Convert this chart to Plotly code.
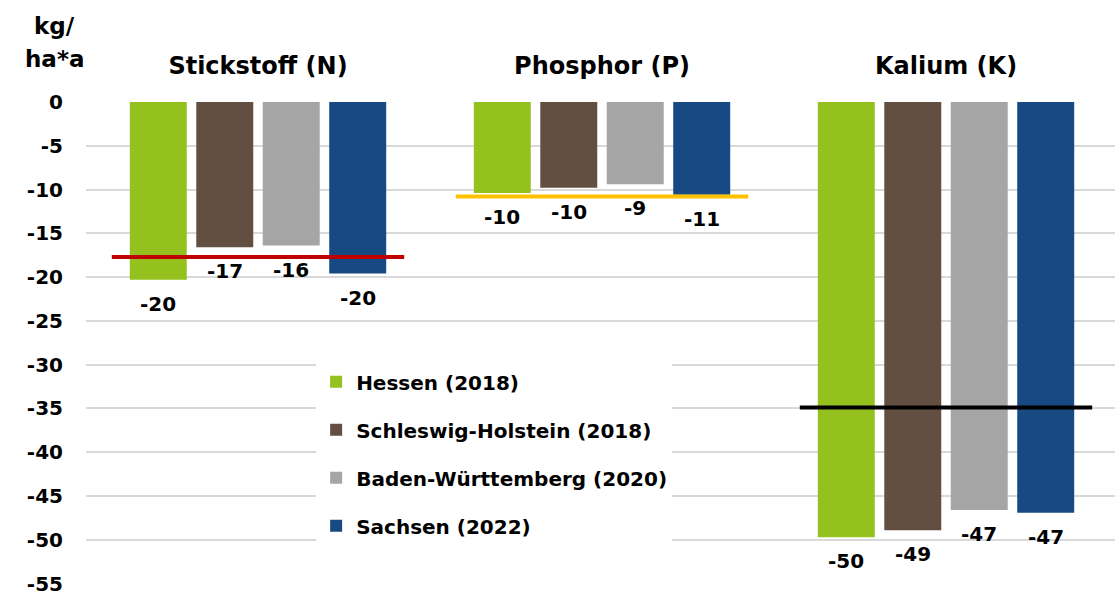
import plotly.graph_objects as go

categories = ["Stickstoff (N)", "Phosphor (P)", "Kalium (K)"]
series_names = ["Hessen (2018)", "Schleswig-Holstein (2018)", "Baden-Württemberg (2020)", "Sachsen (2022)"]
hessen = [-20.3, -10.4, -49.7]
schleswig = [-16.6, -9.8, -48.9]
baden = [-16.4, -9.4, -46.6]
sachsen = [-19.6, -10.6, -46.9]
series_values = [hessen, schleswig, baden, sachsen]
colors = ["#95C11F", "#634E42", "#A5A5A5", "#174A82"]
ref_values = [-17.7, -10.8, -34.9]
ref_colors = ["#C00000", "#FFC000", "#000000"]
y_ticks = [0, -5, -10, -15, -20, -25, -30, -35, -40, -45, -50, -55]
y_tick_labels = ["0", "-5", "-10", "-15", "-20", "-25", "-30", "-35", "-40", "-45", "-50", "-55"]
unit_lines = ["kg/", "ha*a"]

FONT = "DejaVu Sans"
BARGAP = 0.227
n_series = len(series_names)
fig = go.Figure()
for j, (name, vals, col) in enumerate(zip(series_names, series_values, colors)):
    fig.add_trace(go.Bar(
        x=categories, y=vals, name=name, marker=dict(color=col, line=dict(width=0)),
        legendgroup=name,
    ))
    slot = (1 - BARGAP) / n_series
    for i, v in enumerate(vals):
        fig.add_annotation(x=i + (j - (n_series - 1) / 2) * slot, y=v, xref="x", yref="y",
                           text=str(round(v)), showarrow=False, yanchor="top", yshift=-10,
                           font=dict(family=FONT, size=20, color="black", weight="bold"))

for i, (rv, rc) in enumerate(zip(ref_values, ref_colors)):
    fig.add_shape(type="line", xref="x", yref="y", x0=i - 0.425, x1=i + 0.425,
                  y0=rv, y1=rv, line=dict(color=rc, width=4), layer="above")

for k, txt in enumerate(unit_lines):
    fig.add_annotation(text=txt, xref="paper", yref="paper", x=-0.031, y=1.0,
                       yanchor="middle", xanchor="center", yshift=76 - 33 * k, showarrow=False,
                       font=dict(family=FONT, size=23, color="black", weight="bold"))

fig.update_layout(
    width=1119, height=599,
    margin=dict(l=86, r=1, t=102, b=15),
    plot_bgcolor="white", paper_bgcolor="white",
    barmode="group", bargap=BARGAP, bargroupgap=0.143,
    font=dict(family=FONT, color="black"),
    showlegend=True,
    legend=dict(x=0.223, y=0.46, xanchor="left", yanchor="top", bgcolor="white",
                font=dict(family=FONT, size=20, color="black", weight="bold"),
                tracegroupgap=19, itemwidth=30),
    xaxis=dict(side="top", showgrid=False, showline=False, ticks="", automargin=False,
               tickfont=dict(family=FONT, size=24, color="black", weight="bold"),
               ticklabelstandoff=22),
    yaxis=dict(range=[-55.05, 0], tickvals=y_ticks, ticktext=y_tick_labels, automargin=False,
               showgrid=True, gridcolor="#D9D9D9", gridwidth=1.5, zeroline=False,
               tickfont=dict(family=FONT, size=20, color="black", weight="bold"),
               ticklabelstandoff=22),
)

fig.write_html("out.html", config={"displayModeBar": False},
               post_script="document.body.style.margin='0';document.body.style.overflow='hidden';")
